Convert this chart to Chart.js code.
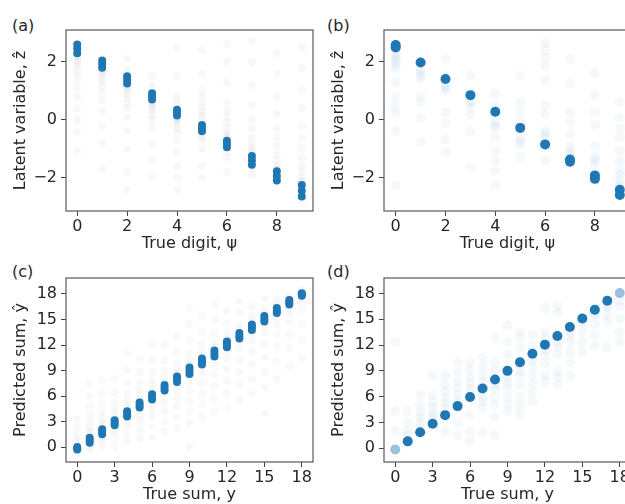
<!DOCTYPE html>
<html lang="en">
<head>
<meta charset="utf-8">
<title>Latent variable and predicted sum</title>
<script src="https://cdn.jsdelivr.net/npm/chart.js"></script>
<style>
    body {
        margin: 0;
        width: 625px;
        height: 504px;
        overflow: hidden;
        position: relative;
        background: #fff;
        font-family: "DejaVu Sans", sans-serif;
    }
    canvas { position: absolute; }
    .tag {
        position: absolute;
        font-size: 16px;
        line-height: 19px;
        color: #262626;
    }
</style>
</head>
<body>

<div class="tag" style="left:12px;top:16px">(a)</div>
<div class="tag" style="left:327px;top:16px">(b)</div>
<div class="tag" style="left:12px;top:262px">(c)</div>
<div class="tag" style="left:327px;top:262px">(d)</div>

<canvas id="panelA" width="320" height="253" style="left:0;top:0"></canvas>
<canvas id="panelB" width="322" height="253" style="left:318px;top:0"></canvas>
<canvas id="panelC" width="320" height="252" style="left:0;top:252px"></canvas>
<canvas id="panelD" width="322" height="252" style="left:318px;top:252px"></canvas>

<script>
// categories
const digits = [0, 1, 2, 3, 4, 5, 6, 7, 8, 9];
const sums = [0, 1, 2, 3, 4, 5, 6, 7, 8, 9, 10, 11, 12, 13, 14, 15, 16, 17, 18];

// tick labels
const digitTicks = [0, 2, 4, 6, 8];
const latentTicks = [-2, 0, 2];
const sumTicks = [0, 3, 6, 9, 12, 15, 18];

// (a) latent variable per digit: dense cluster and grey spread
const aBlob = [
    [2.6, 2.45, 2.3], [2.05, 1.93, 1.8], [1.5, 1.38, 1.25], [0.92, 0.81, 0.7], [0.35, 0.25, 0.15],
    [-0.18, -0.29, -0.4], [-0.72, -0.83, -0.95], [-1.25, -1.4, -1.55], [-1.78, -1.94, -2.1], [-2.25, -2.45, -2.65]
];
const aTail = [
    [2.2, 2.15, 2.05, 1.95, 1.85, 1.7, 1.55, 1.35, 1.1, 0.8, 0.4, 0.0, -0.4, -1.1],
    [1.7, 1.65, 1.55, 1.45, 1.3, 1.15, 0.95, 0.7, 0.3, -0.2, -0.8, -1.7],
    [2.1, 1.75, 1.15, 1.1, 1.0, 0.9, 0.75, 0.6, 0.4, 0.1, -0.4, -1.0, -1.8, -2.4],
    [1.5, 1.2, 0.6, 0.55, 0.5, 0.4, 0.3, 0.15, 0.0, -0.3, -0.8, -1.4, -2.0],
    [2.5, 1.5, 0.8, 0.6, 0.05, 0.0, -0.05, -0.15, -0.3, -0.45, -0.7, -1.1, -1.6, -2.0, -2.4],
    [2.4, 1.6, 1.0, 0.8, 0.6, 0.45, 0.3, 0.15, 0.05, -0.6, -0.7, -1.0, -1.6, -2.0],
    [2.6, 2.0, 1.3, 0.6, 0.3, 0.1, -0.1, -0.3, -0.45, -0.55, -0.6, -1.1, -1.3, -1.8],
    [2.7, 2.0, 1.2, 0.5, 0.0, -0.3, -0.6, -0.8, -0.95, -1.05, -1.15, -1.7, -1.9],
    [2.3, 1.6, 0.8, 0.2, -0.3, -0.6, -0.9, -1.2, -1.4, -1.55, -1.65, -1.7, -2.2],
    [2.5, 1.8, 1.0, 0.4, -0.2, -0.6, -1.0, -1.3, -1.6, -1.8, -1.95, -2.1, -2.15, -2.75]
];

// (b) latent variable per digit, second model
const bBlob = [
    [2.58, 2.5], [1.98], [1.41], [0.85], [0.28],
    [-0.28], [-0.85], [-1.37, -1.45], [-1.92, -2.04], [-2.42, -2.6]
];
const bTail = [
    [2.3, 2.2, 2.1, 2.0, 1.9, 1.76, 1.29, 0.78, 0.5, 0.24, -0.4, -2.27],
    [1.76, 1.65, 1.53, 1.42, 0.8, 0.61, 0.07, -0.78],
    [2.1, 1.19, 1.1, 1.02, 0.27, -0.1, -0.68, -1.12],
    [1.53, 0.65, 0.58, 0.41, 0.17, -0.4, -1.63],
    [0.92, 0.5, -0.07, -0.17, -0.27, -0.61, -1.08, -1.42, -1.76, -2.27],
    [1.53, 0.61, 0.27, -0.05, -0.61, -0.73, -0.85, -1.29],
    [2.64, 2.4, 2.15, 1.86, 1.36, 0.5, 0.2, -0.4, -0.5, -0.61, -1.42],
    [2.1, 1.25, 0.27, -0.07, -0.5, -0.92, -1.08, -1.2],
    [1.6, 0.85, 0.27, -0.17, -0.92, -1.29, -1.41, -1.53],
    [0.61, 0.07, -0.3, -0.61, -1.08, -1.42, -1.76, -1.9, -2.1, -2.25]
];

// (c) predicted sum per true sum
const cBlob = [
    [0.0, -0.15, -0.3], [1.1, 0.8, 0.5], [2.1, 1.8, 1.5], [3.15, 2.85, 2.55], [4.2, 3.9, 3.6],
    [5.25, 4.94, 4.65], [6.2, 5.9, 5.6], [7.3, 6.97, 6.65], [8.3, 7.96, 7.65], [9.35, 8.98, 8.6],
    [10.4, 10.04, 9.7], [11.35, 11.0, 10.65], [12.4, 12.08, 11.75], [13.4, 13.06, 12.75],
    [14.4, 14.08, 13.75], [15.4, 15.06, 14.75], [16.35, 16.04, 15.75], [17.3, 17.03, 16.75], [18.1, 17.96, 17.8]
];
const cTail = [
    [0.5, 0.9, 1.5, 2.3, 3.2, -0.7],
    [-0.3, 0.0, 1.5, 1.9, 2.4, 3.0, 3.8, 4.8, 6.0, 7.5],
    [0.2, 0.9, 1.1, 2.5, 2.9, 3.4, 4.1, 5.0, 6.2, 7.8],
    [0.0, 1.0, 1.7, 2.1, 3.6, 4.0, 4.5, 5.3, 6.4, 8.0],
    [0.6, 1.5, 2.4, 3.1, 4.6, 5.0, 5.5, 6.3, 7.5, 9.0, 11.0],
    [1.0, 2.0, 3.0, 3.6, 4.2, 5.7, 6.1, 6.7, 7.6, 8.8, 10.5],
    [1.2, 2.4, 3.5, 4.4, 5.1, 6.6, 7.1, 7.8, 8.8, 10.2, 12.0],
    [1.8, 3.0, 4.2, 5.2, 6.2, 7.7, 8.2, 9.0, 10.2, 12.1],
    [2.2, 3.5, 4.8, 5.8, 6.6, 7.2, 8.7, 9.2, 10.0, 11.2, 13.0],
    [0.0, 2.8, 4.2, 5.5, 6.6, 7.6, 8.2, 9.7, 10.2, 11.0, 12.5, 14.5, 16.4],
    [3.5, 5.0, 6.3, 7.5, 8.6, 9.3, 10.8, 11.3, 12.2, 13.6, 15.5],
    [4.2, 5.8, 7.2, 8.4, 9.5, 10.3, 11.7, 12.3, 13.4, 15.0, 16.8],
    [4.6, 6.3, 7.8, 9.2, 10.4, 11.3, 12.8, 13.4, 14.6, 16.0],
    [5.5, 7.2, 8.8, 10.2, 11.5, 12.3, 13.8, 14.5, 15.8, 17.2],
    [6.2, 8.0, 9.7, 11.2, 12.5, 13.3, 14.8, 15.4, 16.5],
    [4.0, 7.0, 8.8, 10.6, 12.0, 13.4, 14.3, 15.8, 16.4, 17.4],
    [8.0, 10.0, 11.8, 13.2, 14.4, 15.2, 16.8, 17.4],
    [9.5, 11.7, 13.2, 14.6, 15.6, 16.2, 17.8],
    [10.5, 12.5, 14.5, 16.0, 17.0, 17.5, 18.5]
];

// (d) predicted sum per true sum, second model
const dBlob = [
    [-0.15], [0.8], [1.85], [2.85], [3.85], [4.9], [5.95], [6.95], [8.0], [9.0],
    [10.0], [11.0], [12.05], [13.05], [14.1], [15.1], [16.1], [17.15], [18.05]
];
const dFadedSums = [0, 18];
const dTail = [
    [2.0, 4.3, 12.4],
    [1.5, 2.0, 3.0, 4.3],
    [2.4, 3.0, 3.6, 4.2, 5.0, 6.2],
    [3.6, 4.0, 4.7, 5.4, 6.2, 8.5],
    [2.0, 4.7, 5.3, 5.9, 6.6, 7.4, 8.5],
    [1.5, 3.0, 5.4, 6.2, 7.0, 7.8, 8.8, 10.0],
    [0.8, 2.0, 3.9, 6.8, 7.5, 8.3, 9.2, 10.0],
    [1.8, 4.7, 5.5, 6.0, 7.7, 8.5, 9.5, 10.5],
    [1.5, 3.6, 5.1, 6.0, 7.0, 7.4, 9.0, 10.0, 12.8],
    [4.3, 5.1, 5.9, 7.0, 7.7, 8.2, 10.9, 12.4, 14.3],
    [4.0, 5.0, 6.0, 7.4, 8.5, 9.0, 9.7, 11.7, 12.8, 13.5],
    [5.4, 6.5, 7.5, 8.5, 9.5, 10.2, 12.0, 13.2],
    [7.7, 8.5, 9.8, 10.8, 11.4, 12.8, 13.5, 16.3],
    [7.4, 8.3, 8.9, 11.0, 11.8, 12.4, 15.8, 16.6],
    [8.5, 10.0, 11.2, 12.3, 13.0, 13.5],
    [11.2, 12.4, 13.5, 14.5, 14.8],
    [12.0, 13.2, 14.4, 15.5, 15.6],
    [11.7, 14.7, 15.5, 16.3, 16.6],
    [12.4, 13.5, 15.1, 16.5, 17.2]
];

const BLUE = '#1f77b4';
const FONT = { family: 'DejaVu Sans', size: 16 };
const TEXT = '#262626';

// axes frame on all four sides, like matplotlib
const framePlugin = {
    id: 'frame',
    afterDatasetsDraw(chart) {
        const { ctx, chartArea: a } = chart;
        ctx.save();
        ctx.strokeStyle = '#666';
        ctx.lineWidth = 1.3;
        ctx.strokeRect(a.left, a.top, a.right - a.left, a.bottom - a.top);
        ctx.restore();
    }
};

function toPoints(xs, rows) {
    return rows.flatMap((ys, i) => ys.map(y => ({ x: xs[i], y: y })));
}

function axis(min, max, tickValues, title, fitSize, horizontal) {
    return {
        type: 'linear',
        min: min,
        max: max,
        afterBuildTicks: s => { s.ticks = tickValues.map(v => ({ value: v })); },
        afterFit: s => { if (horizontal) s.height = fitSize; else s.width = fitSize; },
        ticks: {
            font: FONT,
            color: TEXT,
            padding: horizontal ? 1 : 4,
            autoSkip: false,
            maxRotation: 0,
            callback: v => String(v).replace('-', '\u2212')
        },
        grid: { drawOnChartArea: false, drawTicks: true, tickLength: 5, color: '#444' },
        border: { display: false },
        title: {
            display: true,
            text: title,
            font: FONT,
            color: TEXT,
            padding: horizontal ? { top: 0, bottom: 0 } : { top: 11, bottom: 0 }
        }
    };
}

function makePanel(id, p) {
    new Chart(document.getElementById(id), {
        type: 'scatter',
        data: {
            datasets: [
                {
                    data: toPoints(p.xs, p.blob),
                    backgroundColor: p.blobColor,
                    pointRadius: p.blobR,
                    borderWidth: 0
                },
                {
                    data: toPoints(p.xs, p.tail),
                    backgroundColor: p.tailColor,
                    pointRadius: p.tailR,
                    borderWidth: 0
                }
            ]
        },
        options: {
            responsive: false,
            animation: false,
            layout: { padding: { top: p.padTop, right: p.padRight, left: 0, bottom: 0 } },
            plugins: { legend: { display: false }, tooltip: { enabled: false } },
            scales: {
                x: axis(p.xMin, p.xMax, p.xTicks, p.xTitle, p.xFit, true),
                y: axis(p.yMin, p.yMax, p.yTicks, p.yTitle, 66, false)
            }
        },
        plugins: [framePlugin]
    });
}

makePanel('panelA', {
    xs: digits, blob: aBlob, tail: aTail,
    blobColor: BLUE, blobR: 4, tailColor: 'rgba(0,0,0,0.028)', tailR: 4,
    xMin: -0.45, xMax: 9.45, yMin: -3.15, yMax: 3.1,
    xTicks: digitTicks, yTicks: latentTicks,
    xTitle: 'True digit, \u03c8', yTitle: 'Latent variable, \u1e91',
    padTop: 30, padRight: 7, xFit: 42
});

makePanel('panelB', {
    xs: digits, blob: bBlob, tail: bTail,
    blobColor: BLUE, blobR: 5, tailColor: 'rgba(31,119,180,0.045)', tailR: 5,
    xMin: -0.47, xMax: 9.45, yMin: -3.15, yMax: 3.1,
    xTicks: digitTicks, yTicks: latentTicks,
    xTitle: 'True digit, \u03c8', yTitle: 'Latent variable, \u1e91',
    padTop: 30, padRight: 9, xFit: 42
});

makePanel('panelC', {
    xs: sums, blob: cBlob, tail: cTail,
    blobColor: BLUE, blobR: 4, tailColor: 'rgba(0,0,0,0.022)', tailR: 4,
    xMin: -0.9, xMax: 18.9, yMin: -1.76, yMax: 19.88,
    xTicks: sumTicks, yTicks: sumTicks,
    xTitle: 'True sum, y', yTitle: 'Predicted sum, \u0177',
    padTop: 26, padRight: 7, xFit: 42
});

makePanel('panelD', {
    xs: sums, blob: dBlob, tail: dTail,
    blobColor: ctx => (ctx.raw && dFadedSums.includes(ctx.raw.x)) ? 'rgba(31,119,180,0.45)' : BLUE,
    blobR: 5, tailColor: 'rgba(31,119,180,0.045)', tailR: 5,
    xMin: -0.9, xMax: 18.9, yMin: -1.6, yMax: 19.8,
    xTicks: sumTicks, yTicks: sumTicks,
    xTitle: 'True sum, y', yTitle: 'Predicted sum, \u0177',
    padTop: 26, padRight: 9, xFit: 42
});
</script>

</body>
</html>
